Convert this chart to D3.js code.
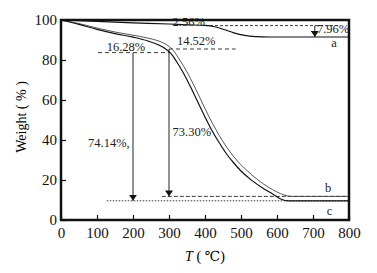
<!DOCTYPE html>
<html>
<head>
<meta charset="utf-8">
<script src="https://cdn.jsdelivr.net/npm/d3@7"></script>
<style>
  body { margin: 0; background: #fff; }
  svg { font-family: "Liberation Serif", "DejaVu Serif", serif; }
</style>
</head>
<body>
<svg width="377" height="273"></svg>
<script>
// TG curves: [temperature (C), weight (%)]
let curveA = [[0, 100], [100, 99.3], [200, 98.6], [300, 98], [350, 97.6], [400, 97.3],
  [430, 96.5], [455, 95.1], [480, 93.6], [510, 92.3], [540, 91.7], [580, 91.5], [800, 91.5]];
let curveB = [[0, 100], [50, 98.2], [100, 96], [150, 94], [200, 92.4], [240, 91],
  [270, 89.6], [290, 88], [310, 85.2], [330, 80], [350, 74], [370, 67], [390, 59.5],
  [410, 52], [430, 45.3], [450, 39.2], [470, 34], [490, 29.5], [515, 25], [545, 20.3],
  [575, 16.5], [600, 14], [620, 12.5], [640, 11.8], [800, 11.8]];
let curveC = [[0, 100], [50, 97.8], [100, 95.3], [150, 93.2], [200, 91.4], [240, 89.6],
  [270, 87.6], [290, 85.6], [305, 83.3], [320, 79.5], [340, 73.5], [360, 66.5],
  [380, 59], [400, 51.5], [420, 44.5], [440, 38.5], [460, 33], [480, 28.5], [500, 24.5],
  [530, 19.8], [560, 16], [590, 12.8], [612, 10.4], [632, 9.6], [800, 9.6]];

let xTicks = [0, 100, 200, 300, 400, 500, 600, 700, 800];
let yTicks = [0, 20, 40, 60, 80, 100];

// annotation lines: [T from, T to, weight]
let hLines = [
  {x1: 400, x2: 775, y: 97.2, dash: "3,2"},
  {x1: 103, x2: 300, y: 83.7, dash: "4,3"},
  {x1: 300, x2: 485, y: 85.5, dash: "4,3"},
  {x1: 127, x2: 800, y: 9.6, dash: "1.5,1.5"},
  {x1: 280, x2: 800, y: 11.8, dash: "4,2"}
];
// arrows: [T, weight from, weight to]
let arrows = [[200, 83.7, 9.6], [300, 85.5, 11.8], [705, 97.2, 91.5]];
let labels = [
  {t: 310, w: 96.8, text: "2.56%"},
  {t: 322, w: 87.5, text: "14.52%"},
  {t: 127, w: 84.5, text: "16.28%"},
  {t: 711, w: 93.5, text: "7.96%"},
  {t: 75, w: 36.5, text: "74.14%,"},
  {t: 310, w: 42, text: "73.30%"},
  {t: 751, w: 86.5, text: "a"},
  {t: 733, w: 14, text: "b"},
  {t: 738, w: 2.5, text: "c"}
];

let svg = d3.select("svg");
let xScale = d3.scaleLinear().domain([0, 800]).range([61, 349]);
let yScale = d3.scaleLinear().domain([0, 100]).range([220, 20]);

svg.append("defs").append("marker")
  .attr("id", "arr")
  .attr("viewBox", "0 0 6 8")
  .attr("refX", 6).attr("refY", 4)
  .attr("markerWidth", 6).attr("markerHeight", 8)
  .attr("markerUnits", "userSpaceOnUse")
  .attr("orient", "auto")
  .append("path")
  .attr("d", "M0,0L6,4L0,8Z")
  .style("fill", "#111");

// dashed guide lines
svg.selectAll("line.guide")
  .data(hLines)
  .join("line")
  .attr("class", "guide")
  .attr("x1", d => xScale(d.x1))
  .attr("x2", d => xScale(d.x2))
  .attr("y1", d => yScale(d.y))
  .attr("y2", d => yScale(d.y))
  .style("stroke", "#222")
  .style("stroke-width", 0.9)
  .style("stroke-dasharray", d => d.dash);

svg.selectAll("line.arrow")
  .data(arrows)
  .join("line")
  .attr("class", "arrow")
  .attr("x1", d => xScale(d[0]))
  .attr("x2", d => xScale(d[0]))
  .attr("y1", d => yScale(d[1]))
  .attr("y2", d => yScale(d[2]))
  .style("stroke", "#222")
  .style("stroke-width", 1)
  .attr("marker-end", "url(#arr)");

let line = d3.line()
  .x(d => xScale(d[0]))
  .y(d => yScale(d[1]))
  .curve(d3.curveMonotoneX);

svg.selectAll("path.tg")
  .data([curveA, curveB, curveC])
  .join("path")
  .attr("class", "tg")
  .attr("d", d => line(d))
  .style("fill", "none")
  .style("stroke", (d, i) => i == 1 ? "#444" : "#111")
  .style("stroke-width", (d, i) => i == 1 ? 0.9 : 1.2);

svg.selectAll("text.note")
  .data(labels)
  .join("text")
  .attr("class", "note")
  .attr("x", d => xScale(d.t))
  .attr("y", d => yScale(d.w))
  .style("font-size", "12.5px")
  .style("fill", "#222")
  .text(d => d.text);

// axes, ticks pointing inward
let xAxis = svg.append("g")
  .attr("transform", "translate(0,220)")
  .call(d3.axisBottom(xScale).tickValues(xTicks).tickSize(-5).tickPadding(7));
let yAxis = svg.append("g")
  .attr("transform", "translate(61,0)")
  .call(d3.axisLeft(yScale).tickValues(yTicks).tickSize(-5).tickPadding(4));

[xAxis, yAxis].forEach(g => {
  g.select(".domain").remove();
  g.selectAll("line").style("stroke", "#111").style("stroke-width", 1.2);
  g.selectAll("text")
    .style("font-family", "Liberation Serif, serif")
    .style("font-size", "15px")
    .style("fill", "#111");
});

// frame
svg.append("rect")
  .attr("x", 61).attr("y", 20)
  .attr("width", 288).attr("height", 200)
  .style("fill", "none")
  .style("stroke", "#111")
  .style("stroke-width", 2.5);

svg.append("text")
  .attr("transform", "translate(26,117) rotate(-90)")
  .attr("text-anchor", "middle")
  .style("font-size", "14px")
  .text("Weight ( % )");

let xt = svg.append("text")
  .attr("x", 205).attr("y", 261)
  .attr("text-anchor", "middle")
  .style("font-size", "14px");
xt.append("tspan").style("font-style", "italic").text("T");
xt.append("tspan").text(" ( ℃)");
</script>
</body>
</html>
